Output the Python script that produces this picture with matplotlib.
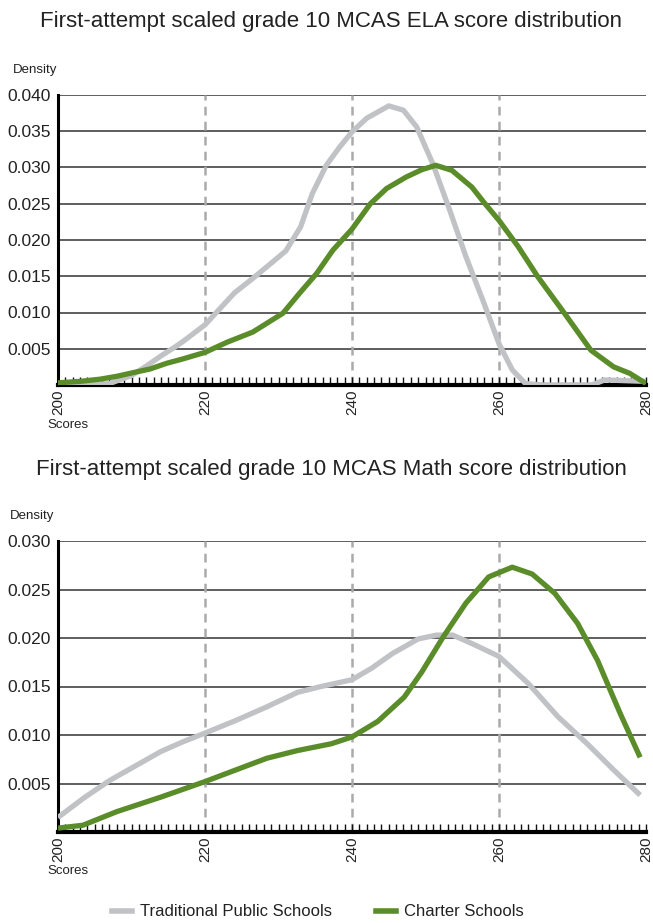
import matplotlib
matplotlib.use("Agg")
import matplotlib.pyplot as plt
from matplotlib.ticker import MultipleLocator, FixedLocator
from matplotlib.lines import Line2D

FONT = ['Liberation Sans Narrow', 'Liberation Sans', 'DejaVu Sans']
plt.rcParams['font.family'] = FONT

# ---- ELA data ----
ela_trad_x = [200, 203, 207, 210, 212, 214, 216, 217, 220, 222, 224, 226.5, 229, 231, 233, 234.6, 236.5,
              238.3, 240, 242, 245, 247, 248.8, 251, 253.3, 255.5, 257.8, 260, 261.8, 263.6, 266, 272.6,
              274.4, 277, 280]
ela_trad_y = [0.0000, 0.0000, 0.0002, 0.0013, 0.0026, 0.0040, 0.0053, 0.0060, 0.0083, 0.0105, 0.0127,
              0.0147, 0.0168, 0.0185, 0.0218, 0.0264, 0.0303, 0.0328, 0.0349, 0.0368, 0.0385, 0.0379,
              0.0356, 0.0305, 0.0241, 0.0177, 0.0117, 0.0057, 0.0021, 0.0002, 0.0000, 0.0000, 0.0007,
              0.0006, 0.0005]
ela_char_x = [200, 203, 205.7, 208, 210.2, 212.5, 214.8, 217, 220, 223, 226.5, 230.6, 232.9, 235.2, 237.4,
              240, 242.5, 244.7, 247.4, 249.5, 251.4, 253.6, 256.3, 258.1, 260, 262.6, 265.3, 268.9,
              272.5, 275.6, 277.8, 280]
ela_char_y = [0.0003, 0.0005, 0.0008, 0.0012, 0.0017, 0.0022, 0.0030, 0.0036, 0.0045, 0.0059, 0.0073,
              0.0099, 0.0127, 0.0154, 0.0186, 0.0215, 0.0250, 0.0271, 0.0287, 0.0297, 0.0303, 0.0296,
              0.0273, 0.0250, 0.0227, 0.0191, 0.0149, 0.0099, 0.0048, 0.0025, 0.0016, 0.0002]

# ---- Math data ----
math_trad_x = [200, 203.5, 207, 210.5, 214, 217, 220, 224.2, 228.4, 232.6, 235.8, 240, 242.7, 245.5,
               249, 251.5, 253.7, 256.4, 260, 264, 268, 272, 275.6, 279.2]
math_trad_y = [0.0015, 0.0035, 0.0053, 0.0068, 0.0083, 0.0093, 0.0102, 0.0115, 0.0129, 0.0144, 0.0150,
               0.0157, 0.0169, 0.0184, 0.0199, 0.0203, 0.0203, 0.0194, 0.0181, 0.0153, 0.0119, 0.0091,
               0.0064, 0.0038]
math_char_x = [200, 203.4, 208, 214, 220, 224.2, 228.4, 232.6, 237.2, 240, 243.5, 247.1, 249.5, 252.4,
               255.5, 258.6, 261.8, 264.5, 267.6, 270.7, 273.4, 276.5, 279.2]
math_char_y = [0.0004, 0.0007, 0.0021, 0.0036, 0.0052, 0.0064, 0.0076, 0.0084, 0.0091, 0.0098, 0.0114,
               0.0139, 0.0165, 0.0201, 0.0236, 0.0263, 0.0273, 0.0266, 0.0246, 0.0215, 0.0177, 0.0122,
               0.0077]

x_ticks = [200, 220, 240, 260, 280]
ela_yticks = [0.005, 0.010, 0.015, 0.020, 0.025, 0.030, 0.035, 0.040]
math_yticks = [0.005, 0.010, 0.015, 0.020, 0.025, 0.030]

titles = ["First-attempt scaled grade 10 MCAS ELA score distribution",
          "First-attempt scaled grade 10 MCAS Math score distribution"]
legend_labels = ["Traditional Public Schools", "Charter Schools"]

GRAY = '#c1c2c5'
GREEN = '#5a8c29'
TXT = '#222222'

W, H = 653, 923
fig = plt.figure(figsize=(W / 100, H / 100), dpi=100)


def make_axes(top_px, bottom_px):
    left, right = 58, 646
    return fig.add_axes([left / W, 1 - bottom_px / H, (right - left) / W, (bottom_px - top_px) / H])


def style(ax, yticks, ymax):
    ax.set_xlim(200, 280)
    ax.set_ylim(0, ymax)
    for yt in yticks:
        ax.axhline(yt, color='#333333', lw=1.1, zorder=1)
    for xv in x_ticks[1:-1]:
        ax.axvline(xv, color='#aaaaaa', lw=1.8, ls=(0, (3.5, 2.5)), zorder=1)
    for s in ['top', 'right']:
        ax.spines[s].set_visible(False)
    ax.spines['left'].set_linewidth(2.2)
    ax.spines['bottom'].set_linewidth(3)
    ax.set_yticks(yticks)
    ax.set_yticklabels([f"{v:.3f}" for v in yticks], fontsize=12.5)
    ax.tick_params(axis='y', length=0, pad=5)
    ax.xaxis.set_major_locator(FixedLocator(x_ticks))
    ax.xaxis.set_minor_locator(MultipleLocator(1))
    ax.set_xticklabels([str(v) for v in x_ticks], rotation=90, fontsize=11)
    ax.tick_params(axis='x', which='both', direction='in', length=6, width=1, color='#111111', pad=3)
    ax.set_facecolor('white')
    for lbl in ax.get_xticklabels() + ax.get_yticklabels():
        lbl.set_color(TXT)


# Top chart
ax1 = make_axes(95, 385)
style(ax1, ela_yticks, 0.040)
ax1.plot(ela_trad_x, ela_trad_y, color=GRAY, lw=3.8, solid_joinstyle='round', solid_capstyle='butt', zorder=3)
ax1.plot(ela_char_x, ela_char_y, color=GREEN, lw=3.8, solid_joinstyle='round', solid_capstyle='butt', zorder=4)
fig.text(331 / W, 1 - 22 / H, titles[0], ha='center', va='center', fontsize=16, color=TXT)
fig.text(13 / W, 1 - 70 / H, 'Density', ha='left', va='center', fontsize=9.5, color=TXT)
fig.text(47 / W, 1 - 425 / H, 'Scores', ha='left', va='center', fontsize=9.5, color=TXT)

# Bottom chart
ax2 = make_axes(541, 832)
style(ax2, math_yticks, 0.030)
ax2.plot(math_trad_x, math_trad_y, color=GRAY, lw=3.8, solid_joinstyle='round', solid_capstyle='butt', zorder=3)
ax2.plot(math_char_x, math_char_y, color=GREEN, lw=3.8, solid_joinstyle='round', solid_capstyle='butt', zorder=4)
fig.text(331 / W, 1 - 469 / H, titles[1], ha='center', va='center', fontsize=16, color=TXT)
fig.text(10 / W, 1 - 516 / H, 'Density', ha='left', va='center', fontsize=9.5, color=TXT)
fig.text(47 / W, 1 - 871 / H, 'Scores', ha='left', va='center', fontsize=9.5, color=TXT)

handles = [Line2D([], [], color=GRAY, lw=4), Line2D([], [], color=GREEN, lw=4)]
fig.legend(handles, legend_labels, loc='center', bbox_to_anchor=(318 / W, 1 - 912 / H), ncol=2,
           frameon=False, fontsize=12, handlelength=1.2, handletextpad=0.5, columnspacing=2.6,
           labelcolor=TXT)

fig.savefig('out.png', dpi=100, facecolor='white')
